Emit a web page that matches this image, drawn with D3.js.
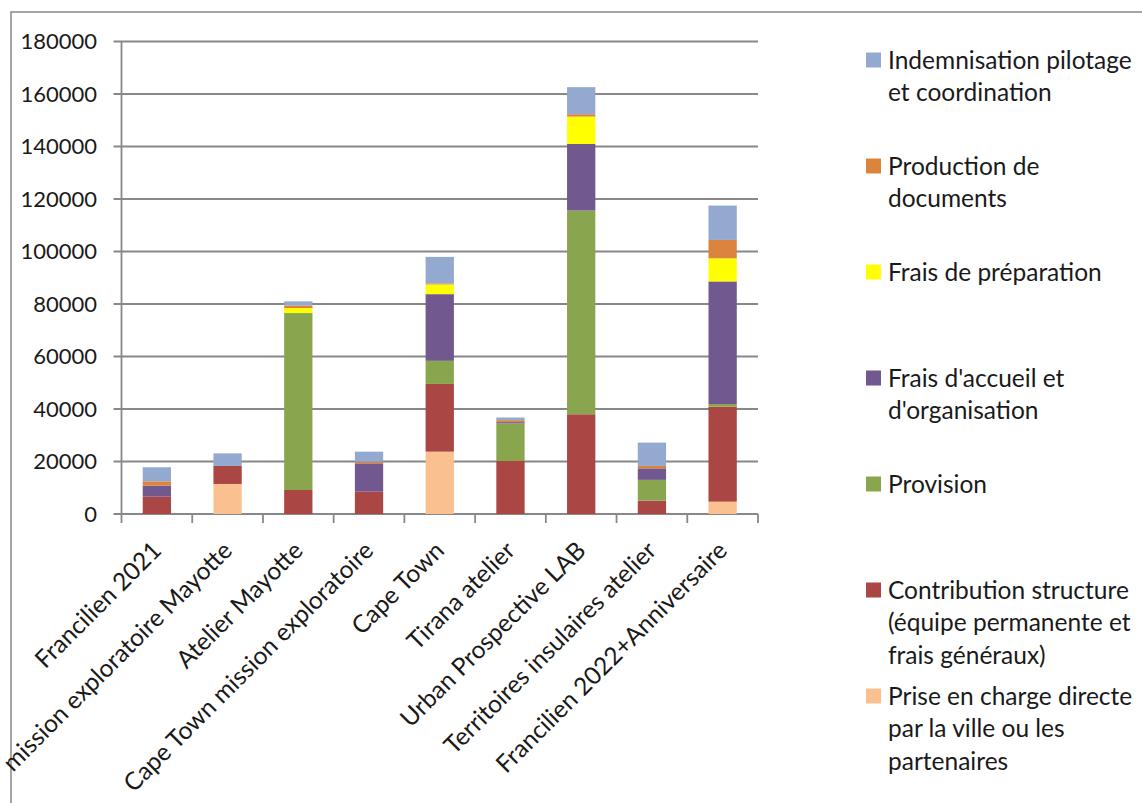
<!DOCTYPE html>
<html>
<head>
<meta charset="utf-8">
<script src="https://cdn.jsdelivr.net/npm/d3@7"></script>
<style>
  body { margin: 0; background: #fff; }
  svg { display: block; font-family: Lato, "Open Sans", sans-serif; }
</style>
</head>
<body>
<svg width="1142" height="803"></svg>
<script>
const categories = [
  "Francilien 2021",
  "mission exploratoire Mayotte",
  "Atelier Mayotte",
  "Cape Town mission exploratoire",
  "Cape Town",
  "Tirana atelier",
  "Urban Prospective LAB",
  "Territoires insulaires atelier",
  "Francilien 2022+Anniversaire",
];

// series values, bottom of the stack first
const priseEnCharge = [0, 11450, 0, 0, 23750, 0, 0, 0, 4700];
const contribution = [6600, 6850, 9150, 8500, 25800, 20200, 38000, 5100, 36200];
const provision = [0, 0, 67400, 0, 8800, 14300, 77600, 7900, 1000];
const fraisAccueil = [4200, 0, 0, 10800, 25400, 500, 25400, 4400, 46700];
const fraisPreparation = [0, 0, 1900, 0, 3700, 0, 10400, 0, 8800];
const production = [1650, 0, 1000, 650, 400, 750, 900, 900, 7000];
const indemnisation = [5350, 4800, 1550, 3800, 10100, 1000, 10300, 8900, 13100];

const seriesNames = [
  "Prise en charge directe par la ville ou les partenaires",
  "Contribution structure (équipe permanente et frais généraux)",
  "Provision",
  "Frais d'accueil et d'organisation",
  "Frais de préparation",
  "Production de documents",
  "Indemnisation pilotage et coordination",
];
const seriesValues = [priseEnCharge, contribution, provision, fraisAccueil, fraisPreparation, production, indemnisation];
const colors = ["#FAC090", "#AA4643", "#89A54E", "#71588F", "#FFFF00", "#DB843D", "#93A9CF"];

// legend lines, listed top to bottom (reverse of stack)
const legendLines = [
  ["Indemnisation pilotage", "et coordination"],
  ["Production de", "documents"],
  ["Frais de préparation"],
  ["Frais d'accueil et", "d'organisation"],
  ["Provision"],
  ["Contribution structure", "(équipe permanente et", "frais généraux)"],
  ["Prise en charge directe", "par la ville ou les", "partenaires"],
];
const yTicks = [0, 20000, 40000, 60000, 80000, 100000, 120000, 140000, 160000, 180000];

const svg = d3.select("svg");
const axisColor = "#888888";
const textColor = "#1a1a1a";

// outer chart frame (cut off by the picture on right/bottom)
svg.append("rect")
  .attr("x", 11).attr("y", 12)
  .attr("width", 1300).attr("height", 1000)
  .attr("fill", "none")
  .attr("stroke", axisColor)
  .attr("stroke-width", 1.5);

const plot = { left: 121.5, right: 758, top: 41.5, bottom: 514 };

const xScale = d3.scaleBand()
  .domain(categories)
  .range([plot.left, plot.right])
  .paddingInner(0.6)
  .paddingOuter(0.3);
const xEdges = d3.scaleLinear().domain([0, categories.length]).range([plot.left, plot.right]);
const yScale = d3.scaleLinear().domain([0, 180000]).range([plot.bottom, plot.top]);

// gridlines
svg.append("g")
  .selectAll("line")
  .data(yTicks)
  .join("line")
  .attr("x1", plot.left - 8)
  .attr("x2", plot.right)
  .attr("y1", (d) => yScale(d))
  .attr("y2", (d) => yScale(d))
  .attr("stroke", axisColor)
  .attr("stroke-width", 1.8);

// y labels
svg.append("g")
  .selectAll("text")
  .data(yTicks)
  .join("text")
  .attr("x", 97)
  .attr("y", (d) => yScale(d))
  .attr("dy", "0.35em")
  .attr("text-anchor", "end")
  .attr("font-size", 22)
  .attr("fill", textColor)
  .text((d) => d);

// stacked bars
const rows = categories.map((c, i) => {
  const row = { cat: c };
  seriesNames.forEach((s, j) => (row[s] = seriesValues[j][i]));
  return row;
});
const stacked = d3.stack().keys(seriesNames)(rows);

svg.append("g")
  .selectAll("g")
  .data(stacked)
  .join("g")
  .attr("fill", (d, i) => colors[i])
  .selectAll("rect")
  .data((d) => d)
  .join("rect")
  .attr("x", (d) => xScale(d.data.cat))
  .attr("width", xScale.bandwidth())
  .attr("y", (d) => yScale(d[1]))
  .attr("height", (d) => yScale(d[0]) - yScale(d[1]));

// y axis line
svg.append("line")
  .attr("x1", plot.left).attr("x2", plot.left)
  .attr("y1", plot.top).attr("y2", plot.bottom)
  .attr("stroke", axisColor)
  .attr("stroke-width", 1.8);

// x ticks at category edges
svg.append("g")
  .selectAll("line")
  .data(d3.range(categories.length + 1))
  .join("line")
  .attr("x1", (d) => xEdges(d))
  .attr("x2", (d) => xEdges(d))
  .attr("y1", plot.bottom)
  .attr("y2", plot.bottom + 9)
  .attr("stroke", axisColor)
  .attr("stroke-width", 1.8);

// rotated category labels
svg.append("g")
  .selectAll("text")
  .data(categories)
  .join("text")
  .attr("transform", (d) => `translate(${xScale(d) + xScale.bandwidth() / 2 + 6}, ${plot.bottom + 38}) rotate(-45)`)
  .attr("text-anchor", "end")
  .attr("font-size", 24.5)
  .attr("fill", textColor)
  .text((d) => d);

// legend
const legendColors = colors.slice().reverse();
const legend = svg.append("g")
  .selectAll("g")
  .data(legendLines)
  .join("g")
  .attr("transform", (d, i) => `translate(866, ${60 + i * 106})`);

legend.append("rect")
  .attr("x", 0).attr("y", -7.5)
  .attr("width", 15).attr("height", 15)
  .attr("fill", (d, i) => legendColors[i]);

legend.append("text")
  .attr("font-size", 24.5)
  .attr("fill", textColor)
  .selectAll("tspan")
  .data((d) => d)
  .join("tspan")
  .attr("x", 22)
  .attr("y", (d, i) => i * 32.5)
  .attr("dy", "0.35em")
  .text((d) => d);
</script>
</body>
</html>
